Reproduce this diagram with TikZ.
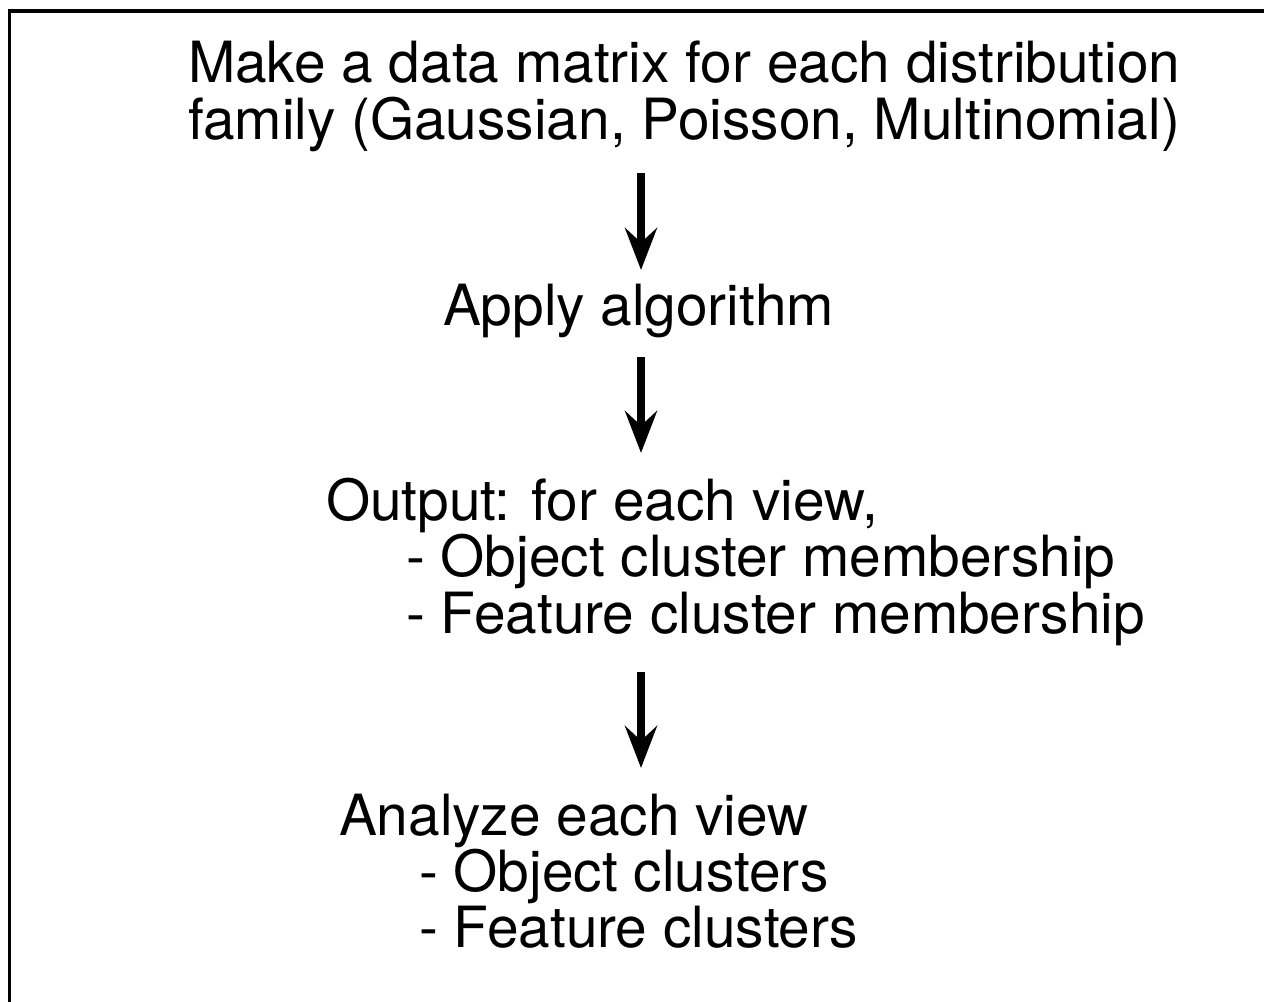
\documentclass[tikz,border=0pt]{standalone}
\usepackage{fontspec}
\setmainfont{TeX Gyre Heros}
\usetikzlibrary{arrows.meta}
\tikzset{
  txt/.style={anchor=base west, inner sep=0pt, outer sep=0pt,
    font=\fontsize{42.6pt}{42pt}\selectfont},
  flow/.style={line width=5.4pt,
    -{Stealth[length=31.5pt, width=24pt, inset=11pt]}},
  frame/.style={line width=2.4pt}
}
\begin{document}
\begin{tikzpicture}[x=0.75pt, y=-0.75pt]
  \useasboundingbox (0,0) rectangle (1264,1002);
  \fill[white] (0,0) rectangle (1264,1002);
  % open frame: left and top edges only
  \draw[frame] (9.5,1002) -- (9.5,11) -- (1264,11);

  % step 1
  \node[txt] (make1) at (188,83) {Make a data matrix for each distribution};
  \node[txt] (make2) at (188,140) {family (Gaussian, Poisson, Multinomial)};
  % step 2
  \node[txt] (apply) at (443,325) {Apply algorithm};
  % step 3
  \node[txt] (out1) at (326,520) {Output: for each view,};
  \node[txt] (out2) at (406,576) {- Object cluster membership};
  \node[txt] (out3) at (406,633) {- Feature cluster membership};
  % step 4
  \node[txt] (an1) at (339,835) {Analyze each view};
  \node[txt] (an2) at (419,891) {- Object clusters};
  \node[txt] (an3) at (419,947) {- Feature clusters};

  % arrow end points
  \coordinate (a1s) at (641,173);
  \coordinate (a1e) at (641,270);
  \coordinate (a2s) at (641,357);
  \coordinate (a2e) at (641,453);
  \coordinate (a3s) at (641,672);
  \coordinate (a3e) at (641,768);

  \draw[flow] (a1s) -- (a1e);
  \draw[flow] (a2s) -- (a2e);
  \draw[flow] (a3s) -- (a3e);
\end{tikzpicture}
\end{document}
